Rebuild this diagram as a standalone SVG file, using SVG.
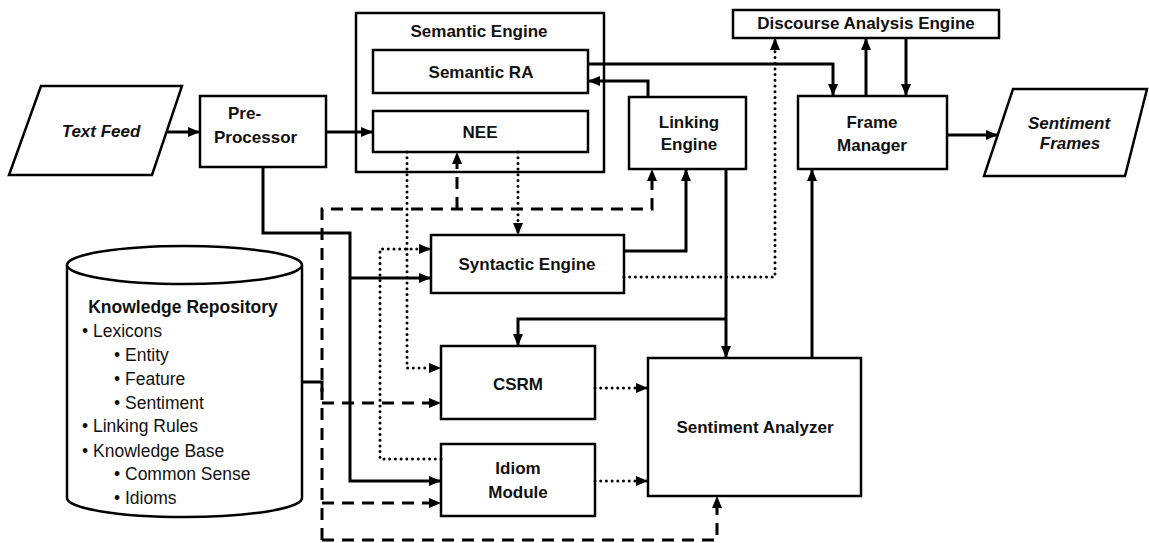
<svg xmlns="http://www.w3.org/2000/svg" width="1149" height="543" viewBox="0 0 1149 543">
<style>
.box{fill:#fff;stroke:#000;stroke-width:2.5}
.lbl{font-family:"Liberation Sans",Arial,sans-serif;font-weight:bold;font-size:17px;fill:#111;text-anchor:middle}
.it{font-style:italic}
.kr{font-family:"Liberation Sans",Arial,sans-serif;font-size:17.5px;fill:#111}
.solid{fill:none;stroke:#000;stroke-width:3}
.dash{fill:none;stroke:#000;stroke-width:3;stroke-dasharray:12 8}
.dot{fill:none;stroke:#000;stroke-width:3;stroke-dasharray:0 5.7;stroke-linecap:round}
</style>
<defs>
<marker id="ah" markerUnits="userSpaceOnUse" markerWidth="12" markerHeight="10" refX="12" refY="5" orient="auto">
<path d="M0,0 L12,5 L0,10 z" fill="#000"/>
</marker>
</defs>
<rect width="1149" height="543" fill="#fff"/>

<g id="text-feed">
<polygon class="box" points="41,86 182,86 152,175 9,175"/>
<text class="lbl it" x="101" y="137">Text Feed</text>
</g>

<g id="pre-processor">
<rect class="box" x="200" y="96" width="126" height="71"/>
<text class="lbl" x="228" y="119" style="text-anchor:start">Pre-</text>
<text class="lbl" x="214" y="143" style="text-anchor:start">Processor</text>
</g>

<g id="semantic-engine">
<rect class="box" x="356" y="13" width="248" height="159"/>
<text class="lbl" x="479" y="37">Semantic Engine</text>
</g>

<g id="semantic-ra">
<rect class="box" x="373" y="50" width="215" height="43"/>
<text class="lbl" x="481" y="78">Semantic RA</text>
</g>

<g id="nee">
<rect class="box" x="373" y="111" width="215" height="41"/>
<text class="lbl" x="480" y="138">NEE</text>
</g>

<g id="linking-engine">
<rect class="box" x="629" y="97" width="117" height="72"/>
<text class="lbl" x="689" y="128">Linking</text>
<text class="lbl" x="689" y="150">Engine</text>
</g>

<g id="discourse-analysis-engine">
<rect class="box" x="733" y="10" width="266" height="28"/>
<text class="lbl" x="866" y="29">Discourse Analysis Engine</text>
</g>

<g id="frame-manager">
<rect class="box" x="798" y="96" width="149" height="73"/>
<text class="lbl" x="872" y="128">Frame</text>
<text class="lbl" x="872" y="151">Manager</text>
</g>

<g id="sentiment-frames">
<polygon class="box" points="1013,89 1147,89 1125,176 984,176"/>
<text class="lbl it" x="1069" y="129">Sentiment</text>
<text class="lbl it" x="1070" y="149">Frames</text>
</g>

<g id="syntactic-engine">
<rect class="box" x="431" y="235" width="193" height="58"/>
<text class="lbl" x="527" y="270">Syntactic Engine</text>
</g>

<g id="csrm">
<rect class="box" x="441" y="346" width="154" height="73"/>
<text class="lbl" x="518" y="390">CSRM</text>
</g>

<g id="idiom-module">
<rect class="box" x="441" y="444" width="154" height="72"/>
<text class="lbl" x="518" y="474">Idiom</text>
<text class="lbl" x="518" y="498">Module</text>
</g>

<g id="sentiment-analyzer">
<rect class="box" x="648" y="358" width="213" height="138"/>
<text class="lbl" x="755" y="433">Sentiment Analyzer</text>
</g>

<g id="knowledge-repository">
<path class="box" d="M67,265 V498 A117.5,19 0 0 0 302,498 V265"/>
<ellipse class="box" cx="184.5" cy="265" rx="117.5" ry="19"/>
<text class="lbl" x="183" y="313" style="font-size:17.5px">Knowledge Repository</text>
<text class="kr" x="82" y="337">•  Lexicons</text>
<text class="kr" x="114" y="361">•  Entity</text>
<text class="kr" x="114" y="385">•  Feature</text>
<text class="kr" x="114" y="409">•  Sentiment</text>
<text class="kr" x="82" y="432">•  Linking Rules</text>
<text class="kr" x="82" y="457">•  Knowledge Base</text>
<text class="kr" x="114" y="480">•  Common Sense</text>
<text class="kr" x="114" y="504">•  Idioms</text>
</g>

<g id="connectors">
<path class="solid" d="M166,132 H200" marker-end="url(#ah)"/>
<path class="solid" d="M326,132 H373" marker-end="url(#ah)"/>
<path class="solid" d="M588,64 H833 V96" marker-end="url(#ah)"/>
<path class="solid" d="M648,97 V81 H588" marker-end="url(#ah)"/>
<path class="solid" d="M866,96 V38" marker-end="url(#ah)"/>
<path class="solid" d="M906,38 V96" marker-end="url(#ah)"/>
<path class="solid" d="M947,135 H998" marker-end="url(#ah)"/>
<path class="solid" d="M812,358 V169" marker-end="url(#ah)"/>
<path class="solid" d="M726,169 V358" marker-end="url(#ah)"/>
<path class="solid" d="M726,319 H518 V346" marker-end="url(#ah)"/>
<path class="solid" d="M624,251 H686 V169" marker-end="url(#ah)"/>
<path class="solid" d="M263,167 V233 H350 V481 H441" marker-end="url(#ah)"/>
<path class="solid" d="M350,278 H431" marker-end="url(#ah)"/>
<path class="solid" d="M302,382 H322 V392"/>
<path class="dot" d="M624,277 H775 V38" marker-end="url(#ah)"/>
<path class="dot" d="M407,152 V368 H441" marker-end="url(#ah)"/>
<path class="dot" d="M518,152 V235" marker-end="url(#ah)"/>
<path class="dot" d="M441,459 H380 V249 H431" marker-end="url(#ah)"/>
<path class="dot" d="M595,388 H648" marker-end="url(#ah)"/>
<path class="dot" d="M595,481 H648" marker-end="url(#ah)"/>
<path class="dash" d="M322,540 V209 H652 V169" marker-end="url(#ah)"/>
<path class="dash" d="M457,209 V152" marker-end="url(#ah)"/>
<path class="dash" d="M322,403 H441" marker-end="url(#ah)"/>
<path class="dash" d="M322,503 H441" marker-end="url(#ah)"/>
<path class="dash" d="M322,540 H717 V496" marker-end="url(#ah)"/>
</g>
</svg>
